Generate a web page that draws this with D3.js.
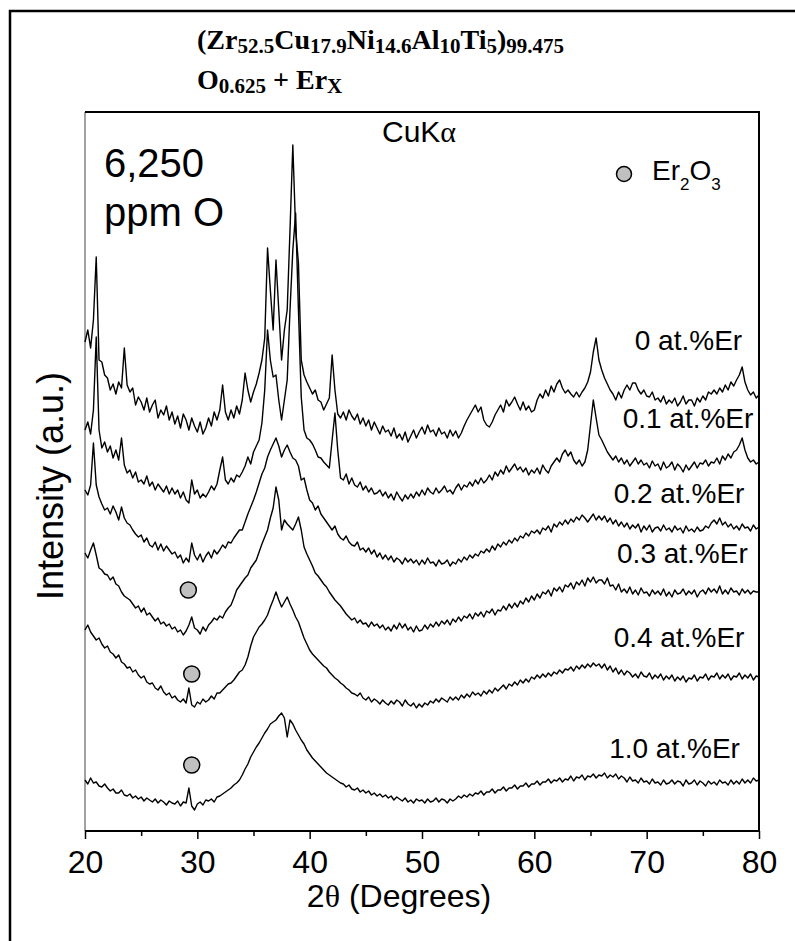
<!DOCTYPE html>
<head>
<meta charset="utf-8">
<title>XRD patterns</title>
<script type="text/javascript" src="https://d3js.org/d3.v7.min.js"></script>
<style>
  body { margin: 0; background: #fff; }
  svg text { font-family: "Liberation Sans", Arial, sans-serif; fill: #000; }
</style>
</head>

<body>
<div id="container"></div>
<script>
//-----------------------------DATA-----------------------------//
// diffraction angle grid, 0.25 degree steps from 20 to 80
const twoTheta = d3.range(241).map(i => 20 + i * 0.25);

const seriesNames = ["0 at.%Er", "0.1 at.%Er", "0.2 at.%Er", "0.3 at.%Er", "0.4 at.%Er", "1.0 at.%Er"];

// stacked intensities (a.u., offset per pattern), one value per grid step
const er00 = [
  488,500,482,510, 573,470,468,455, 452,440,446,436, 448,442,482,445, 438,442,425,433,
  428,420,432,418, 425,430,412,420, 415,424,410,418, 406,414,402,416, 410,400,412,404,
  398,408,396,402, 412,404,418,410, 420,445,418,410, 420,412,424,416, 430,457,440,428,
  438,446,457,470, 492,582,540,500, 570,520,470,500, 520,600,685,600, 567,470,455,448,
  442,436,440,430, 428,420,426,432, 475,440,416,412, 418,410,420,414, 410,416,406,412,
  404,410,400,408, 402,396,404,398, 400,394,402,392, 396,390,398,388, 394,400,392,398,
  403,396,405,398, 400,394,402,396, 398,392,400,394, 399,392,397,404, 410,415,420,425,
  418,423,410,405, 403,408,415,420, 425,418,430,424, 428,433,426,420, 428,420,424,418,
  420,430,436,432, 440,434,444,438, 446,450,442,437, 440,436,433,438, 433,438,442,448,
  458,478,492,470, 460,452,446,440, 436,430,438,432, 440,445,440,447, 447,440,436,440,
  434,433,438,430, 432,428,434,426, 430,427,432,424, 428,434,426,430, 430,424,432,428,
  434,430,438,436, 440,436,442,438, 445,440,448,444, 450,455,463,448, 440,435,438,432,
  435];
const er01 = [
  400,408,396,420, 493,400,382,388, 378,384,372,380, 370,392,365,357, 360,352,358,348,
  350,346,354,344, 348,340,346,342, 338,344,336,342, 336,340,332,338, 330,327,350,336,
  340,332,336,333, 338,344,340,346, 360,373,350,346, 352,348,355,353, 358,364,373,366,
  378,384,390,407, 440,500,470,453, 455,430,410,430, 450,520,580,617, 520,433,400,392,
  390,386,380,373, 372,368,365,362, 390,417,380,352, 350,356,346,352, 345,343,348,340,
  344,338,342,336, 337,340,334,338, 332,336,330,338, 333,329,335,331, 336,332,338,334,
  340,335,342,338, 336,342,337,340, 344,338,340,336, 342,346,340,345, 343,348,344,350,
  346,352,347,350, 355,350,358,354, 360,356,364,358, 362,366,360,363, 358,362,355,360,
  357,362,356,365, 360,357,364,368, 372,368,376,380, 374,378,370,366, 370,364,368,380,
  405,430,412,395, 390,384,378,374, 370,374,368,372, 366,370,364,368, 372,366,370,365,
  367,362,369,364, 366,360,368,362, 364,368,360,366, 363,358,365,360, 364,368,362,367,
  366,370,364,368, 367,372,366,374, 370,376,372,378, 380,385,392,380, 372,368,370,366,
  368];
const er02 = [
  340,335,345,387, 345,333,326,320, 322,316,324,318, 310,323,312,307, 305,300,296,293,
  295,288,292,285, 283,288,280,286, 279,284,280,276, 278,272,275,267, 272,268,287,275,
  270,276,268,274, 278,272,280,276, 280,285,282,288, 287,292,296,300, 300,308,316,323,
  330,338,347,356, 362,373,380,386, 392,384,373,380, 385,378,372,370, 364,350,352,340,
  330,327,320,324, 316,312,308,304, 300,304,296,292, 290,294,288,285, 284,288,280,282,
  278,282,276,280, 273,277,271,275, 270,274,268,272, 270,266,272,268, 271,267,270,265,
  270,266,272,267, 268,264,270,266, 267,270,264,268, 266,271,268,273, 270,275,272,276,
  274,279,277,281, 278,284,280,286, 283,288,285,290, 287,292,289,294, 292,297,294,299,
  297,300,296,302, 300,304,298,306, 303,308,305,310, 306,311,308,313, 310,315,312,308,
  312,316,310,314, 310,314,308,312, 306,310,304,308, 303,307,301,305, 302,306,298,304,
  300,305,298,302, 303,299,305,300, 302,298,304,300, 302,297,304,299, 301,298,303,299,
  300,304,302,307, 310,306,312,305, 308,303,306,301, 304,300,306,302, 303,299,305,301,
  303];
const er03 = [
  277,272,280,287, 275,262,260,256, 255,250,253,246, 244,238,234,232, 230,226,222,224,
  218,222,215,217, 213,209,212,206, 208,204,206,201, 203,198,200,195, 199,205,213,202,
  200,196,203,199, 205,208,212,210, 214,212,218,222, 225,232,240,244, 248,252,255,262,
  266,270,278,286, 293,300,312,322, 343,330,300,310, 306,303,300,306, 313,300,283,276,
  270,264,257,254, 250,246,243,238, 234,230,227,224, 220,216,213,210, 212,207,210,206,
  207,203,208,204, 206,202,205,200, 203,199,205,201, 207,202,206,200, 203,198,204,199,
  200,205,201,206, 203,208,204,209, 206,210,205,211, 208,213,209,214, 212,216,211,217,
  214,218,213,219, 217,221,215,220, 219,224,220,226, 222,227,223,229, 226,232,228,234,
  230,236,232,238, 236,240,234,242, 239,243,238,245, 243,247,241,248, 245,250,244,252,
  248,253,247,250, 250,246,252,244, 245,240,246,238, 241,237,243,236, 240,235,242,237,
  238,234,240,236, 239,235,241,234, 238,233,240,236, 237,241,235,239, 236,240,233,238,
  240,236,242,238, 241,237,244,236, 240,236,242,238, 239,235,241,237, 240,236,239,238,
  238];
const er04 = [
  200,205,198,194, 190,192,186,182, 184,178,176,172, 175,168,166,162, 163,158,160,155,
  152,154,148,146, 147,142,140,144, 138,135,137,132, 134,130,128,131, 127,142,125,123,
  128,126,131,128, 130,134,131,137, 137,140,143,146, 147,150,154,158, 160,165,173,184,
  193,198,203,206, 210,215,223,230, 238,230,223,228, 233,226,220,213, 208,200,192,186,
  180,176,173,170, 167,164,162,158, 155,152,150,147, 145,142,140,137, 136,134,137,132,
  130,133,128,131, 129,126,130,127, 125,129,126,130, 128,124,130,126, 124,127,122,126,
  123,127,125,129, 127,131,128,132, 130,128,133,130, 133,130,135,132, 136,133,138,135,
  137,134,139,136, 140,137,142,139, 142,145,141,146, 144,148,145,150, 147,151,148,153,
  151,155,152,156, 153,157,154,158, 156,160,157,161, 160,163,159,164, 161,165,162,166,
  163,167,164,166, 162,166,160,164, 158,162,156,160, 155,159,157,153, 156,152,158,154,
  153,157,151,155, 152,156,150,154, 151,155,149,153, 150,154,148,152, 151,155,149,153,
  152,156,150,154, 153,157,151,155, 152,156,150,154, 153,157,151,155, 152,156,150,154,
  153];
const er10 = [
  50,46,52,47, 48,44,43,46, 42,39,41,37, 37,40,35,34, 36,32,34,31,
  33,29,32,30, 28,31,27,30, 28,25,29,27, 26,29,24,28, 27,42,24,20,
  26,28,25,30, 29,31,28,33, 34,36,38,40, 42,45,47,50, 55,61,66,73,
  78,83,87,92, 97,101,106,108, 110,114,117,112, 93,110,106,100, 95,90,86,80,
  76,72,69,66, 63,60,57,55, 53,51,49,47, 46,43,45,41, 40,42,38,40,
  37,39,35,37, 34,36,33,35, 32,34,30,33, 31,29,32,28, 30,27,31,29,
  30,27,31,28, 29,32,28,31, 30,27,31,29, 31,34,32,35, 33,36,34,37,
  36,39,35,38, 38,41,37,40, 40,43,39,42, 42,45,41,44, 44,47,43,46,
  46,49,45,48, 48,51,47,50, 49,52,48,51, 50,54,49,53, 52,55,50,54,
  53,56,52,55, 54,57,52,55, 53,56,51,54, 52,48,53,49, 50,47,52,48,
  49,46,51,47, 48,45,50,46, 47,50,46,49, 48,44,50,46, 47,50,45,49,
  47,44,49,46, 48,45,50,47, 48,45,50,46, 49,46,51,47, 50,47,52,49,
  50];
const patterns = [er00, er01, er02, er03, er04, er10];

const xTicksMajor = [20, 30, 40, 50, 60, 70, 80];
const xTicksMinor = [25, 35, 45, 55, 65, 75];

// Er2O3 reflections marked on the 0.3, 0.4 and 1.0 at.% patterns
const er2o3Theta = [29.2, 29.5, 29.5];
const er2o3Level = [240, 156, 65];

//-----------------------------SVG------------------------------//
const width = 795;
const height = 941;
const plot = {left: 85, right: 759, top: 112, bottom: 831};

const svg = d3.select("div#container").append("svg")
    .attr("width", width)
    .attr("height", height);

// outer figure border (only left and top edges fall in view)
svg.append("path")
    .attr("d", "M10," + height + "V11H" + width)
    .attr("fill", "none")
    .attr("stroke", "#000")
    .attr("stroke-width", 2.5);

//----------------------------SCALES----------------------------//
const x = d3.scaleLinear().domain([20, 80]).range([plot.left, plot.right]);
const y = d3.scaleLinear().domain([0, 718]).range([830, plot.top]);

//-----------------------------AXES-----------------------------//
const xAxis = svg.append("g")
    .attr("transform", "translate(0," + plot.bottom + ")")
    .call(d3.axisBottom(x).tickValues(xTicksMajor).tickSize(8).tickPadding(11)
        .tickFormat(d3.format("d")));
xAxis.select(".domain").remove();
xAxis.selectAll("line").attr("stroke", "#000").attr("stroke-width", 1.5);
xAxis.selectAll("text")
    .style("font-family", "'Liberation Sans', Arial, sans-serif")
    .style("font-size", "32px");

const xMinor = svg.append("g")
    .attr("transform", "translate(0," + plot.bottom + ")")
    .call(d3.axisBottom(x).tickValues(xTicksMinor).tickSize(5).tickFormat(""));
xMinor.select(".domain").remove();
xMinor.selectAll("line").attr("stroke", "#000").attr("stroke-width", 1.5);

// frame
svg.append("line")
    .attr("x1", plot.left).attr("x2", plot.left)
    .attr("y1", plot.top).attr("y2", plot.bottom)
    .attr("stroke", "#444").attr("stroke-width", 1);
svg.append("path")
    .attr("d", "M" + plot.left + "," + plot.top + "H" + plot.right + "V" + plot.bottom + "H" + plot.left)
    .attr("fill", "none")
    .attr("stroke", "#000")
    .attr("stroke-width", 2);

svg.append("text")
    .attr("x", 399).attr("y", 907)
    .attr("text-anchor", "middle")
    .style("font-size", "32px")
    .call(t => {
      t.append("tspan").text("2");
      t.append("tspan").style("font-family", "'Liberation Serif', serif").text("θ");
      t.append("tspan").text(" (Degrees)");
    });

svg.append("text")
    .attr("transform", "translate(63,600) rotate(-90)")
    .attr("text-anchor", "start")
    .style("font-size", "36px")
    .text("Intensity (a.u.)");

//----------------------------LINES-----------------------------//
const line = d3.line()
    .x(d => x(d[0]))
    .y(d => y(d[1]));

svg.append("g").selectAll("path")
    .data(patterns)
    .enter()
    .append("path")
    .attr("d", d => line(twoTheta.map((t, i) => [t, d[i]])))
    .attr("fill", "none")
    .attr("stroke", "#000")
    .attr("stroke-width", 1.4)
    .attr("stroke-linejoin", "round");

// pattern labels
const labelAnchor = [[78.5, 480], [79.5, 402], [78.7, 327], [79.0, 267], [78.7, 183], [78.3, 72]];
svg.append("g").selectAll("text")
    .data(seriesNames)
    .enter()
    .append("text")
    .attr("x", (d, i) => x(labelAnchor[i][0]))
    .attr("y", (d, i) => y(labelAnchor[i][1]))
    .attr("text-anchor", "end")
    .style("font-size", "28px")
    .text(d => d);

// Er2O3 markers
svg.append("g").selectAll("circle")
    .data(er2o3Theta)
    .enter()
    .append("circle")
    .attr("cx", d => x(d))
    .attr("cy", (d, i) => y(er2o3Level[i]))
    .attr("r", 8)
    .attr("fill", "#c0c0c0")
    .attr("stroke", "#000")
    .attr("stroke-width", 1.5);

//---------------------------LEGEND-----------------------------//
svg.append("circle")
    .attr("cx", 624).attr("cy", 174).attr("r", 7.5)
    .attr("fill", "#c0c0c0").attr("stroke", "#000").attr("stroke-width", 1.5);

const leg = svg.append("text").attr("x", 652).attr("y", 180).style("font-size", "28px");
leg.append("tspan").text("Er");
leg.append("tspan").attr("y", 190).style("font-size", "17px").text("2");
leg.append("tspan").attr("y", 180).text("O");
leg.append("tspan").attr("y", 190).style("font-size", "17px").text("3");

//---------------------------NOTES------------------------------//
svg.append("text")
    .attr("x", 382).attr("y", 142)
    .style("font-size", "30px")
    .call(t => {
      t.append("tspan").text("CuK");
      t.append("tspan").style("font-family", "'Liberation Serif', serif").text("α");
    });

svg.append("text").attr("x", 104).attr("y", 177).style("font-size", "40px").text("6,250");
svg.append("text").attr("x", 104).attr("y", 226).style("font-size", "40px").text("ppm O");

//----------------------------TITLE-----------------------------//
const titleLines = [
  {y: 49, parts: [["(Zr", 0], ["52.5", 1], ["Cu", 0], ["17.9", 1], ["Ni", 0], ["14.6", 1],
                  ["Al", 0], ["10", 1], ["Ti", 0], ["5", 1], [")", 0], ["99.475", 1]]},
  {y: 89, parts: [["O", 0], ["0.625", 1], [" + Er", 0], ["X", 1]]}
];

titleLines.forEach(l => {
  const t = svg.append("text")
      .attr("x", 197).attr("y", l.y)
      .style("font-family", "'Liberation Serif', 'Times New Roman', serif")
      .style("font-weight", "bold")
      .style("font-size", "28px")
      .attr("xml:space", "preserve");
  l.parts.forEach(p => {
    t.append("tspan")
        .attr("y", p[1] ? l.y + 4 : l.y)
        .style("font-size", p[1] ? "21px" : "28px")
        .text(p[0]);
  });
});
</script>
</body>
